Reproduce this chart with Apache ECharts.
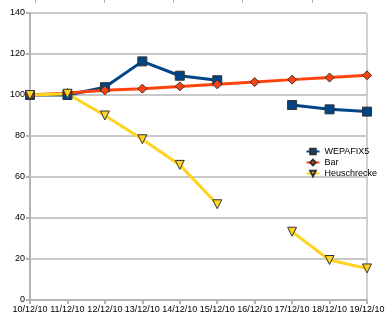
<!DOCTYPE html>
<html><head><meta charset="utf-8">
<script src="https://cdn.jsdelivr.net/npm/echarts@6/dist/echarts.min.js"></script>
<style>html,body{margin:0;padding:0;background:#fff}#c{width:388px;height:324px}</style>
</head><body><div id="c"></div>
<script>
var categories = ['10/12/10','11/12/10','12/12/10','13/12/10','14/12/10','15/12/10','16/12/10','17/12/10','18/12/10','19/12/10'];
var wepafix5 = [100, 100, 103.8, 116.4, 109.4, 107.2, null, 95.1, 93.0, 91.9];
var bar = [100, 101, 102.3, 103.1, 104.2, 105.2, 106.3, 107.5, 108.5, 109.6];
var heuschrecke = [100, 100.6, 90, 78.4, 65.9, 46.7, null, 33.3, 19.5, 15.4];
var yTicks = [0, 20, 40, 60, 80, 100, 120, 140];

var font = 'Liberation Sans';
var chart = echarts.init(document.getElementById('c'), null, {renderer:'canvas'});
chart.setOption({
  animation: false,
  backgroundColor: '#fff',
  grid: {left: 30, right: 21, top: 13, bottom: 24, containLabel: false},
  legend: {
    orient: 'vertical', right: 6, top: 142, itemGap: 2, itemWidth: 13, itemHeight: 7,
    textStyle: {fontFamily: font, fontSize: 9, color: '#000'},
    data: ['WEPAFIX5', 'Bar', 'Heuschrecke']
  },
  xAxis: {
    type: 'category', data: categories, boundaryGap: false,
    axisLine: {lineStyle: {color: '#b3b3b3', width: 2}},
    axisTick: {show: true, length: 4, lineStyle: {color: '#b3b3b3', width: 2}},
    axisLabel: {fontFamily: font, fontSize: 9, color: '#000', margin: 5, interval: 0},
    splitLine: {show: false}
  },
  yAxis: {
    type: 'value', min: yTicks[0], max: yTicks[yTicks.length-1], interval: 20,
    axisLine: {show: true, lineStyle: {color: '#b3b3b3', width: 2}},
    axisTick: {show: true, length: 4, lineStyle: {color: '#b3b3b3', width: 2}},
    axisLabel: {fontFamily: font, fontSize: 9, color: '#000', margin: 5},
    splitLine: {show: true, lineStyle: {color: '#c8c8c8', width: 2}}
  },
  series: [
    {name: 'WEPAFIX5', type: 'line', data: wepafix5, color: '#004586',
     symbol: 'rect', symbolSize: 9, showAllSymbol: true,
     lineStyle: {width: 3, color: '#004586'},
     itemStyle: {color: '#004586', borderColor: '#333', borderWidth: 1}},
    {name: 'Bar', type: 'line', data: bar, color: '#ff420e',
     symbol: 'diamond', symbolSize: 9,
     lineStyle: {width: 3, color: '#ff420e'},
     itemStyle: {color: '#ff420e', borderColor: '#333', borderWidth: 1}},
    {name: 'Heuschrecke', type: 'line', data: heuschrecke, color: '#ffd320',
     symbol: 'triangle', symbolRotate: 180, symbolSize: 9,
     lineStyle: {width: 3, color: '#ffd320'},
     itemStyle: {color: '#ffd320', borderColor: '#333', borderWidth: 1}}
  ]
});
var rxPix = chart.convertToPixel({xAxisIndex:0}, categories[categories.length-1]);
var topPix = chart.convertToPixel({yAxisIndex:0}, yTicks[yTicks.length-1]);
var botPix = chart.convertToPixel({yAxisIndex:0}, yTicks[0]);
var deco = [{type:'line', z: 0, silent: true, shape:{x1: rxPix, y1: topPix, x2: rxPix, y2: botPix}, style:{stroke:'#d0d0d0', lineWidth: 2}}];
[35, 104, 173, 242, 312].forEach(function(x){
  deco.push({type:'line', silent: true, shape:{x1: x + 0.5, y1: 0, x2: x + 0.5, y2: 3}, style:{stroke:'#b0b0b0', lineWidth: 1}});
});
chart.setOption({graphic: deco});
</script></body></html>
